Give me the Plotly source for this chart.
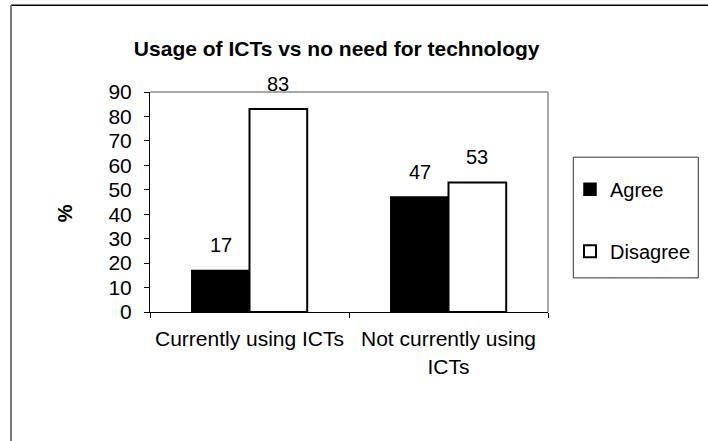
import plotly.graph_objects as go

categories = ["Currently using ICTs", "Not currently using<br>ICTs"]
agree = [17, 47]
disagree = [83, 53]
series_names = ["Agree", "Disagree"]
y_ticks = [0, 10, 20, 30, 40, 50, 60, 70, 80, 90]
title_text = "Usage of ICTs vs no need for technology"
y_label = "%"

FONT = "Liberation Sans, Arial, sans-serif"
W, H = 708, 441
L, R, T, B = 150, 160, 92, 128.5
pw, ph = W - L - R, H - T - B

def px_x(px):
    return (px - L) / pw

def px_y(py):
    return (H - B - py) / ph

fig = go.Figure()
fig.add_trace(go.Bar(
    x=categories, y=agree, name=series_names[0], legendgroup="a",
    marker=dict(color="black", line=dict(color="black", width=1.5)),
))
fig.add_trace(go.Bar(
    x=categories, y=disagree, name=series_names[1], legendgroup="d",
    marker=dict(color="white", line=dict(color="black", width=2)),
))

bargap = 0.42
bar_px = pw / len(categories) * (1 - bargap) / 2
annotations = []
for vals, sh in ((agree, -bar_px / 2), (disagree, bar_px / 2)):
    for c, v in zip(categories, vals):
        annotations.append(dict(
            x=c, y=v, xref="x", yref="y", text=str(v), showarrow=False,
            xshift=sh, yshift=25.5, yanchor="middle",
            font=dict(family=FONT, size=20, color="black"),
        ))

annotations.append(dict(
    x=px_x(64.5), y=px_y(214), xref="paper", yref="paper", text="<b>%s</b>" % y_label,
    showarrow=False, textangle=-90, xanchor="center", yanchor="middle",
    font=dict(family=FONT, size=20, color="black"),
))

shapes = [
    # plot area top/right border (gray)
    dict(type="line", xref="paper", yref="paper", x0=0, x1=1, y0=1, y1=1,
         line=dict(color="#8c8c8c", width=1.5)),
    dict(type="line", xref="paper", yref="paper", x0=1, x1=1, y0=0, y1=1,
         line=dict(color="#8c8c8c", width=1.5)),
    # legend box
    dict(type="rect", xref="paper", yref="paper",
         x0=px_x(573.3), x1=px_x(698.3), y0=px_y(278.3), y1=px_y(157.3),
         line=dict(color="#333333", width=1), fillcolor="rgba(0,0,0,0)"),
    # outer frame
    dict(type="line", xref="paper", yref="paper",
         x0=px_x(11), x1=px_x(720), y0=px_y(5), y1=px_y(5),
         line=dict(color="black", width=1.5)),
    dict(type="line", xref="paper", yref="paper",
         x0=px_x(11), x1=px_x(11), y0=px_y(5), y1=px_y(450),
         line=dict(color="#7a7a7a", width=2)),
]

fig.update_layout(
    width=W, height=H,
    margin=dict(l=L, r=R, t=T, b=B, autoexpand=False),
    paper_bgcolor="white", plot_bgcolor="white",
    barmode="group", bargap=bargap, bargroupgap=0,
    title=dict(text="<b>%s</b>" % title_text, x=px_x(336.7), xref="paper", xanchor="center",
               y=1 - 49 / H, yanchor="middle",
               font=dict(family=FONT, size=21, color="black")),
    font=dict(family=FONT, size=21, color="black"),
    showlegend=True,
    legend=dict(
        x=px_x(570), y=px_y(170), xanchor="left", yanchor="top",
        traceorder="grouped", tracegroupgap=33,
        font=dict(family=FONT, size=20, color="black"),
        bgcolor="rgba(0,0,0,0)", borderwidth=0,
    ),
    xaxis=dict(
        showline=True, linecolor="black", linewidth=1,
        ticks="outside", tickson="boundaries", ticklen=5, tickcolor="black",
        showgrid=False, zeroline=False,
        tickfont=dict(family=FONT, size=21, color="black"),
        ticklabelstandoff=8,
    ),
    yaxis=dict(
        range=[0, 90], tickvals=y_ticks, ticktext=[str(t) for t in y_ticks],
        showline=True, linecolor="black", linewidth=1,
        ticks="outside", ticklen=5, tickcolor="black",
        showgrid=False, zeroline=False,
        tickfont=dict(family=FONT, size=21, color="black"),
        ticklabelstandoff=8,
    ),
    annotations=annotations,
    shapes=shapes,
)

fig.write_html("out.html", config={"displayModeBar": False},
               post_script="document.body.style.margin='0';")
